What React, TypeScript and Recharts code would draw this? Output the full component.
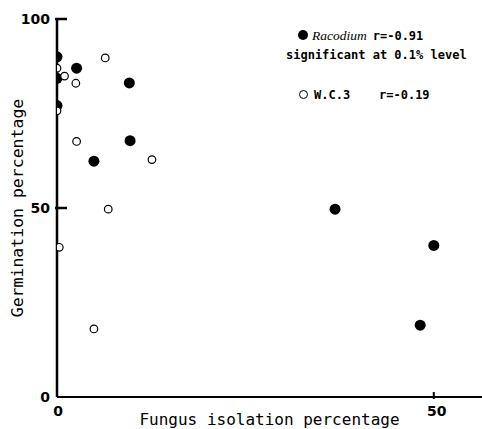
import { ScatterChart, Scatter, XAxis, YAxis, Legend } from "recharts";

// Racodium (filled dots)
const racodiumX = [0, 2.6, 0, 9.6, 0, 9.7, 4.9, 36.9, 50, 48.2];
const racodiumY = [90, 87, 84.3, 83.1, 77.1, 67.8, 62.4, 49.7, 40.1, 19];

// W.C.3 (open dots)
const wc3X = [6.4, 0, 1, 2.5, 0, 2.6, 12.6, 6.8, 0.3, 4.9];
const wc3Y = [89.7, 87, 84.9, 83, 75.7, 67.6, 62.8, 49.7, 39.6, 18];

const xTicks = [0, 50];
const yTicks = [0, 50, 100];

const racodium = racodiumX.map((x, i) => ({ x, y: racodiumY[i] }));
const wc3 = wc3X.map((x, i) => ({ x, y: wc3Y[i] }));

const tickFont = { fontFamily: "DejaVu Sans", fontWeight: 700, fontSize: 14, fill: "#000" };
const monoFont = "'DejaVu Sans Mono', monospace";

const FilledDot = (p: any) => <circle cx={p.cx} cy={p.cy} r={5.5} fill="#000" />;
const OpenDot = (p: any) => (
  <circle cx={p.cx} cy={p.cy} r={3.8} fill="#fff" stroke="#000" strokeWidth={1.2} />
);

const YTick = (p: any) => {
  const v = p.payload.value;
  return (
    <g>
      {v > 0 && <line x1={p.x} x2={p.x + 12} y1={p.y} y2={p.y} stroke="#000" strokeWidth={2.5} />}
      <text x={p.x - 5} y={p.y} dy={5} textAnchor="end" style={tickFont}>
        {v}
      </text>
    </g>
  );
};

const XTick = (p: any) => {
  const v = p.payload.value;
  return (
    <g>
      {v > 0 && <line x1={p.x} x2={p.x} y1={p.y} y2={p.y - 7} stroke="#000" strokeWidth={2} />}
      <text x={p.x + (v > 0 ? 3 : 1)} y={p.y} dy={17} textAnchor="middle" style={tickFont}>
        {v}
      </text>
    </g>
  );
};

const LegendBox = () => (
  <div style={{ fontFamily: monoFont, fontWeight: 700, fontSize: 12, color: "#000", lineHeight: "19px" }}>
    <div style={{ paddingLeft: 12 }}>
      <span style={{ display: "inline-block", width: 10, height: 10, borderRadius: 5, background: "#000", marginRight: 4 }} />
      <span style={{ fontFamily: "'Liberation Serif', serif", fontStyle: "italic", fontWeight: 400, fontSize: 13.5, marginRight: 6 }}>
        Racodium
      </span>
      r=-0.91
    </div>
    <div>significant at 0.1% level</div>
    <div style={{ paddingLeft: 13, marginTop: 21 }}>
      <span
        style={{
          display: "inline-block",
          width: 7,
          height: 7,
          borderRadius: 5,
          border: "1.2px solid #000",
          marginRight: 6,
        }}
      />
      W.C.3&nbsp;&nbsp;&nbsp;&nbsp;r=-0.19
    </div>
  </div>
);

export default function App() {
  return (
    <div style={{ position: "absolute", left: 0, top: 0, background: "#fff" }}>
      <ScatterChart width={482} height={429} margin={{ top: 19, right: 0, bottom: 0, left: 0 }}>
        <XAxis
          type="number"
          dataKey="x"
          domain={[0, 56.4]}
          ticks={xTicks}
          allowDataOverflow
          height={32}
          tickSize={0}
          tickLine={false}
          axisLine={{ stroke: "#000", strokeWidth: 2 }}
          tick={<XTick />}
          label={{
            value: "Fungus isolation percentage",
            position: "insideBottom",
            offset: 4,
            style: { fontFamily: monoFont, fontSize: 16, fill: "#000" },
          }}
        />
        <YAxis
          type="number"
          dataKey="y"
          domain={[0, 100]}
          ticks={yTicks}
          width={57}
          tickSize={0}
          tickLine={false}
          axisLine={{ stroke: "#000", strokeWidth: 2.5 }}
          tick={<YTick />}
          label={{
            value: "Germination percentage",
            angle: -90,
            position: "insideLeft",
            offset: 17,
            style: { textAnchor: "middle", fontFamily: monoFont, fontSize: 16.5, fill: "#000" },
          }}
        />
        <Legend
          verticalAlign="middle"
          layout="horizontal"
          content={<LegendBox />}
          wrapperStyle={{ position: "absolute", top: 26, left: 286, width: 200 }}
        />
        <Scatter name="Racodium" data={racodium} shape={<FilledDot />} isAnimationActive={false} />
        <Scatter name="W.C.3" data={wc3} shape={<OpenDot />} isAnimationActive={false} />
      </ScatterChart>
    </div>
  );
}
